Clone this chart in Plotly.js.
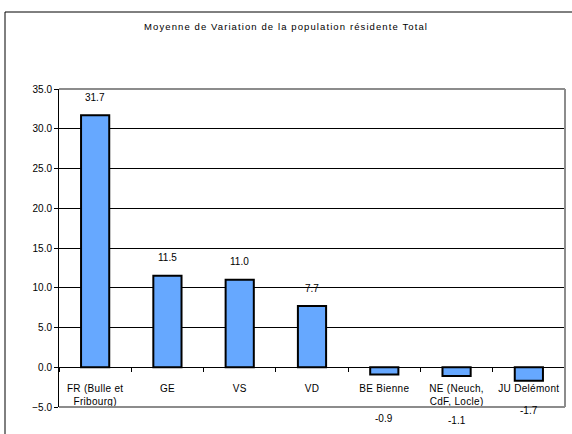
<!DOCTYPE html>
<html>
<head>
<meta charset="utf-8">
<script src="https://cdn.plot.ly/plotly-3.0.1.min.js"></script>
<style>
  html, body { margin: 0; padding: 0; background: #ffffff; }
  #chart { width: 572px; height: 434px; }
  #chart .gtitle { letter-spacing: 1.1px; }
  #chart .xtick text { letter-spacing: 0.3px; }
</style>
</head>
<body>
<div id="chart"></div>
<script>
// ---- data ----
const categories = ["FR (Bulle et<br>Fribourg)", "GE", "VS", "VD", "BE Bienne", "NE (Neuch,<br>CdF, Locle)", "JU Delémont"];
const values = [31.7, 11.5, 11.0, 7.7, -0.9, -1.1, -1.7];
const valueLabels = ["31.7", "11.5", "11.0", "7.7", "-0.9", "-1.1", "-1.7"];
const yTickValues = [-5, 0, 5, 10, 15, 20, 25, 30, 35];
const chartTitle = "Moyenne de Variation de la population résidente Total";

// ---- layout geometry (pixels) ----
const W = 572, H = 434;
const mL = 59, mR = 7, mT = 89, mB = 27;
const pw = W - mL - mR, ph = H - mT - mB;
const px = x => (x - mL) / pw;          // pixel -> paper x
const py = y => 1 - (y - mT) / ph;      // pixel -> paper y

const font = "Liberation Sans, Arial, sans-serif";

const trace = {
  type: "bar",
  x: categories,
  y: values,
  marker: { color: "#66A8FF", line: { color: "#000000", width: 2 } },
  width: 0.39,
  hoverinfo: "x+y",
  cliponaxis: false
};

const annotations = values.map((v, i) => ({
  x: categories[i],
  y: v,
  xref: "x", yref: "y",
  text: valueLabels[i],
  showarrow: false,
  yshift: v >= 0 ? 18 : (v < -1.5 ? -30 : -44),
  font: { family: font, size: 10, color: "#000000" }
}));

const layout = {
  width: W, height: H,
  margin: { l: mL, r: mR, t: mT, b: mB, pad: 0 },
  paper_bgcolor: "#ffffff",
  plot_bgcolor: "#ffffff",
  showlegend: false,
  title: {
    text: chartTitle,
    font: { family: font, size: 9.5, color: "#000000" },
    x: 0.5, xref: "container", xanchor: "center",
    y: 1 - 27 / H, yref: "container", yanchor: "middle"
  },
  xaxis: {
    type: "category",
    anchor: "free",
    position: 5 / 40,
    showline: true, linecolor: "#000000", linewidth: 1,
    ticks: "outside", tickson: "boundaries", ticklen: 4, tickcolor: "#000000", tickwidth: 1,
    showgrid: false, zeroline: false,
    tickfont: { family: font, size: 10, color: "#000000" },
    ticklabelstandoff: 12
  },
  yaxis: {
    range: [-5, 35],
    tickvals: yTickValues,
    tickformat: ".1f",
    showline: true, linecolor: "#000000", linewidth: 1,
    ticks: "outside", ticklen: 4, tickcolor: "#000000",
    showgrid: true, gridcolor: "#000000", gridwidth: 1,
    zeroline: false,
    tickfont: { family: font, size: 10, color: "#000000" }
  },
  shapes: [
    // plot area frame (gray top/right/bottom)
    { type: "line", xref: "paper", yref: "paper", x0: 0, x1: 1, y0: 1, y1: 1, line: { color: "#8c8c8c", width: 2 } },
    { type: "line", xref: "paper", yref: "paper", x0: 1, x1: 1, y0: 0, y1: 1, line: { color: "#8c8c8c", width: 2 } },
    { type: "line", xref: "paper", yref: "paper", x0: 0, x1: 1, y0: 0, y1: 0, line: { color: "#8c8c8c", width: 2 } },
    // outer chart border
    { type: "line", xref: "paper", yref: "paper", x0: px(5), x1: px(572), y0: py(12), y1: py(12), line: { color: "#000000", width: 1 } },
    { type: "line", xref: "paper", yref: "paper", x0: px(5), x1: px(5), y0: py(12), y1: py(434), line: { color: "#000000", width: 1 } }
  ],
  annotations: annotations
};

Plotly.newPlot("chart", [trace], layout, { displayModeBar: false, staticPlot: true });
</script>
</body>
</html>
